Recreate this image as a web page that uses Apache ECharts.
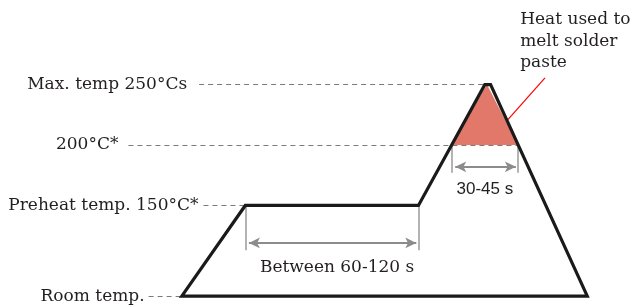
<!DOCTYPE html>
<html><head><meta charset="utf-8">
<script src="https://cdn.jsdelivr.net/npm/echarts@6/dist/echarts.min.js"></script>
<style>html,body{margin:0;padding:0;background:#fff}#c{width:632px;height:307px}</style>
</head><body><div id="c"></div>
<script>
// Reflow soldering profile (schematic): time in s, temperature in °C (not to scale)
const profileTime = [0, 44, 164, 210, 214, 281, 0, 44];
const profileTemp = [75, 150, 150, 250, 250, 75, 75, 150];
// Region above melting point (heat used to melt solder paste)
const meltTime = [187, 211.5, 233];
const meltTemp = [200, 250, 200];
// Reference temperature levels
const levelLabels = ['Max. temp 250°Cs', '200°C*', 'Preheat temp. 150°C*', 'Room temp.'];
const levelTemps = [250, 200, 150, 75];
const levelStart = [12, -37, 15, -23];
const levelEnd = [210, 233, 44, 0];
const levelGap = [12, 10, 5, 4];
// Duration spans
const spanLabels = ['Between 60-120 s', '30-45 s'];
const spanStart = [44, 187];
const spanEnd = [164, 233];
const spanTop = [150, 200];
const spanArrowTemp = [119, 182];
const spanTickBottom = [113, 177];
const spanLabelTime = [107.6, 210];
const spanLabelTemp = [99, 163];
// Annotation
const noteText = 'Heat used to\nmelt solder\npaste';
const noteTime = 234.5;
const noteTemp = 286;
const pointerFrom = [251.7, 255.5];
const pointerTo = [226, 221];

const serif = '"DejaVu Serif", serif';
const sans = '"Liberation Sans", Arial, sans-serif';
const ink = '#231f20';

const levelLines = levelTemps.map((t, i) => [
  {coord: [levelStart[i], t], label: {show: true, position: 'start', distance: levelGap[i], formatter: levelLabels[i],
    fontFamily: serif, fontSize: 17, color: ink}},
  {coord: [levelEnd[i], t]}
]);

const arrowLines = spanStart.map((s, i) => [
  {coord: [s + 2.5, spanArrowTemp[i]]}, {coord: [spanEnd[i] - 1.5, spanArrowTemp[i]]}
]);
const tickLines = [];
spanStart.forEach((s, i) => {
  tickLines.push([{coord: [s, spanTop[i]]}, {coord: [s, spanTickBottom[i]]}]);
  tickLines.push([{coord: [spanEnd[i], spanTop[i]]}, {coord: [spanEnd[i], spanTickBottom[i]]}]);
});

const chart = echarts.init(document.getElementById('c'), null, {renderer: 'canvas'});
chart.setOption({
  animation: false,
  backgroundColor: '#ffffff',
  grid: {left: 0, right: 0, top: 0, bottom: 0},
  xAxis: {type: 'value', min: -126, max: 312, show: false},
  yAxis: {type: 'value', min: 66, max: 320, show: false},
  series: [
    {
      type: 'line', name: 'melt', silent: true, symbol: 'none', z: 1,
      data: meltTime.map((t, i) => [t, meltTemp[i]]),
      lineStyle: {width: 0},
      areaStyle: {color: '#e2786a', opacity: 1, origin: 200}
    },
    {
      type: 'line', name: 'guides', silent: true, symbol: 'none', z: 2, data: [],
      markLine: {
        silent: true, symbol: 'none', animation: false,
        lineStyle: {color: '#7a7a7a', width: 1, type: [5, 4]},
        data: levelLines
      }
    },
    {
      type: 'line', name: 'spans', silent: true, symbol: 'none', z: 2, data: [],
      markLine: {
        silent: true, symbol: ['arrow', 'arrow'], symbolSize: [8, 11], animation: false,
        label: {show: false},
        lineStyle: {color: '#8c8c8c', width: 2, type: 'solid'},
        data: arrowLines
      }
    },
    {
      type: 'line', name: 'ticks', silent: true, symbol: 'none', z: 2, data: [],
      markLine: {
        silent: true, symbol: 'none', animation: false,
        label: {show: false},
        lineStyle: {color: '#9a9a9a', width: 1.5, type: 'solid'},
        data: tickLines.concat([[{coord: pointerFrom, lineStyle: {color: '#ff0000', width: 1.2}}, {coord: pointerTo}]])
      }
    },
    {
      type: 'line', name: 'profile', silent: true, symbol: 'none', z: 5,
      data: profileTime.map((t, i) => [t, profileTemp[i]]),
      lineStyle: {color: '#1a1a1a', width: 3.2, join: 'miter', cap: 'butt'}
    },
    {
      type: 'scatter', name: 'texts', silent: true, symbolSize: 1, z: 6,
      itemStyle: {opacity: 1, color: 'rgba(0,0,0,0)'},
      data: [
        {value: [spanLabelTime[0], spanLabelTemp[0]], label: {formatter: spanLabels[0], fontFamily: serif, fontSize: 17, color: ink}},
        {value: [spanLabelTime[1], spanLabelTemp[1]], label: {formatter: spanLabels[1], fontFamily: sans, fontSize: 17, color: ink}},
        {value: [noteTime, noteTemp], label: {formatter: noteText, fontFamily: serif, fontSize: 17, align: 'left', lineHeight: 21.5, color: ink}}
      ],
      label: {show: true, position: 'inside', color: ink, opacity: 1, textBorderWidth: 0, align: 'center', verticalAlign: 'middle'}
    }
  ]
});
</script></body></html>
